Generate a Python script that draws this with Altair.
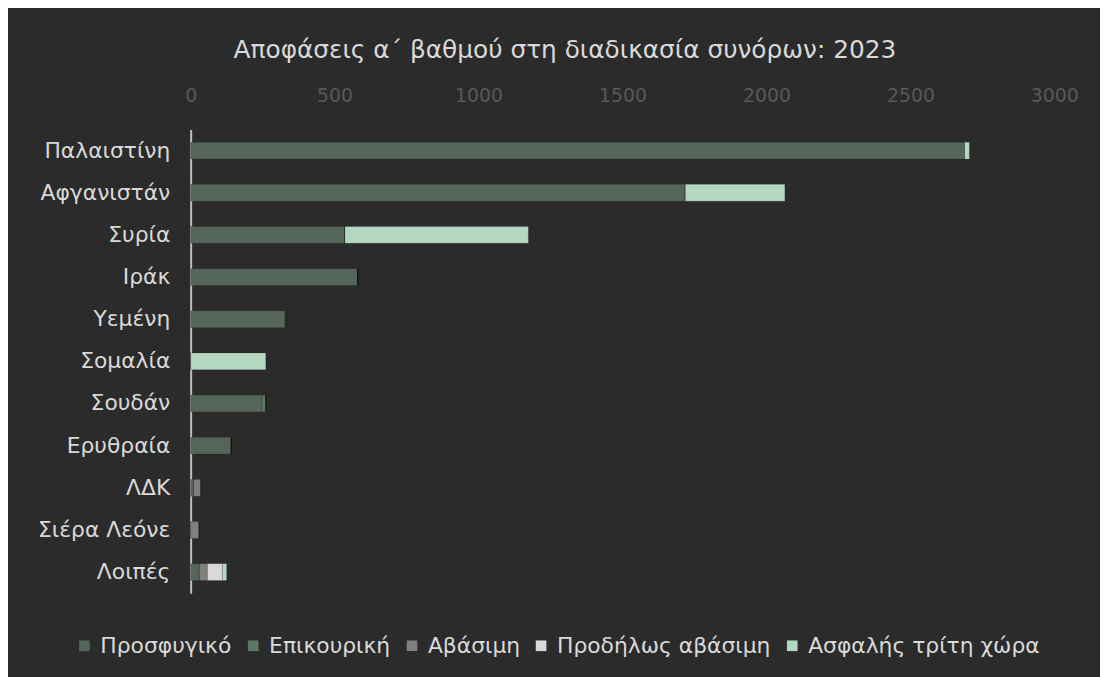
import altair as alt
import pandas as pd

countries = ["Παλαιστίνη", "Αφγανιστάν", "Συρία", "Ιράκ", "Υεμένη", "Σομαλία",
             "Σουδάν", "Ερυθραία", "ΛΔΚ", "Σιέρα Λεόνε", "Λοιπές"]
series = ["Προσφυγικό", "Επικουρική", "Αβάσιμη", "Προδήλως αβάσιμη", "Ασφαλής τρίτη χώρα"]
prosfygiko = [2688, 1718, 536, 580, 327, 0, 248, 141, 10, 0, 30]
epikouriki = [0, 0, 0, 0, 4, 0, 13, 0, 0, 0, 0]
avasimi = [0, 0, 0, 0, 0, 0, 0, 0, 25, 29, 28]
prodilos = [0, 0, 0, 0, 0, 0, 0, 0, 0, 0, 52]
asfalis = [17, 346, 637, 0, 0, 261, 0, 0, 0, 0, 15]
colors = ["#55655a", "#5e7866", "#7f7f7f", "#d9d9d9", "#b3d7c1"]
x_ticks = [0, 500, 1000, 1500, 2000, 2500, 3000]

rows = []
for vals, name in zip([prosfygiko, epikouriki, avasimi, prodilos, asfalis], series):
    for c, v in zip(countries, vals):
        rows.append({"country": c, "series": name, "value": v, "ord": series.index(name)})
df = pd.DataFrame(rows)

FONT = "DejaVu Sans"

chart = alt.Chart(df).mark_bar(stroke="#000000", strokeOpacity=0.15, strokeWidth=1).encode(
    y=alt.Y("country:N", sort=countries,
            scale=alt.Scale(paddingInner=0.6, paddingOuter=0.3),
            axis=alt.Axis(title=None, domain=True, domainColor="#bfbfbf", domainWidth=2,
                          ticks=False, tickSize=0, labelColor="#d9d9d9", labelFontSize=22,
                          labelFont=FONT, labelPadding=21, grid=False)),
    x=alt.X("value:Q", stack="zero",
            scale=alt.Scale(domain=[0, 3000], nice=False),
            axis=alt.Axis(orient="top", title=None, values=x_ticks, format="d",
                          domain=False, labelFlush=False,
                          ticks=False, tickSize=0, grid=False, labelColor="#595959",
                          labelFontSize=19, labelFont=FONT, labelPadding=24)),
    color=alt.Color("series:N", scale=alt.Scale(domain=series, range=colors),
                    legend=alt.Legend(title=None, orient="none", direction="horizontal",
                                      columns=5, legendX=-118, legendY=509,
                                      symbolType="square", symbolSize=115,
                                      symbolStrokeWidth=0, labelFontSize=22,
                                      labelFont=FONT, labelColor="#d9d9d9", labelLimit=0,
                                      labelOffset=5, columnPadding=10)),
    order=alt.Order("ord:Q"),
).properties(
    width=870,
    height=467,
    title=alt.TitleParams("Αποφάσεις α΄ βαθμού στη διαδικασία συνόρων: 2023",
                          font=FONT, fontSize=25, fontWeight="normal", color="#d9d9d9",
                          anchor="middle", dx=-58, offset=24),
    background="#2b2b2b",
    autosize=alt.AutoSizeParams(type="none"),
    padding={"left": 184, "top": 120, "right": 46, "bottom": 82},
).configure_view(stroke=None)

chart.save("out.html", embed_options={"renderer": "svg", "actions": False})
